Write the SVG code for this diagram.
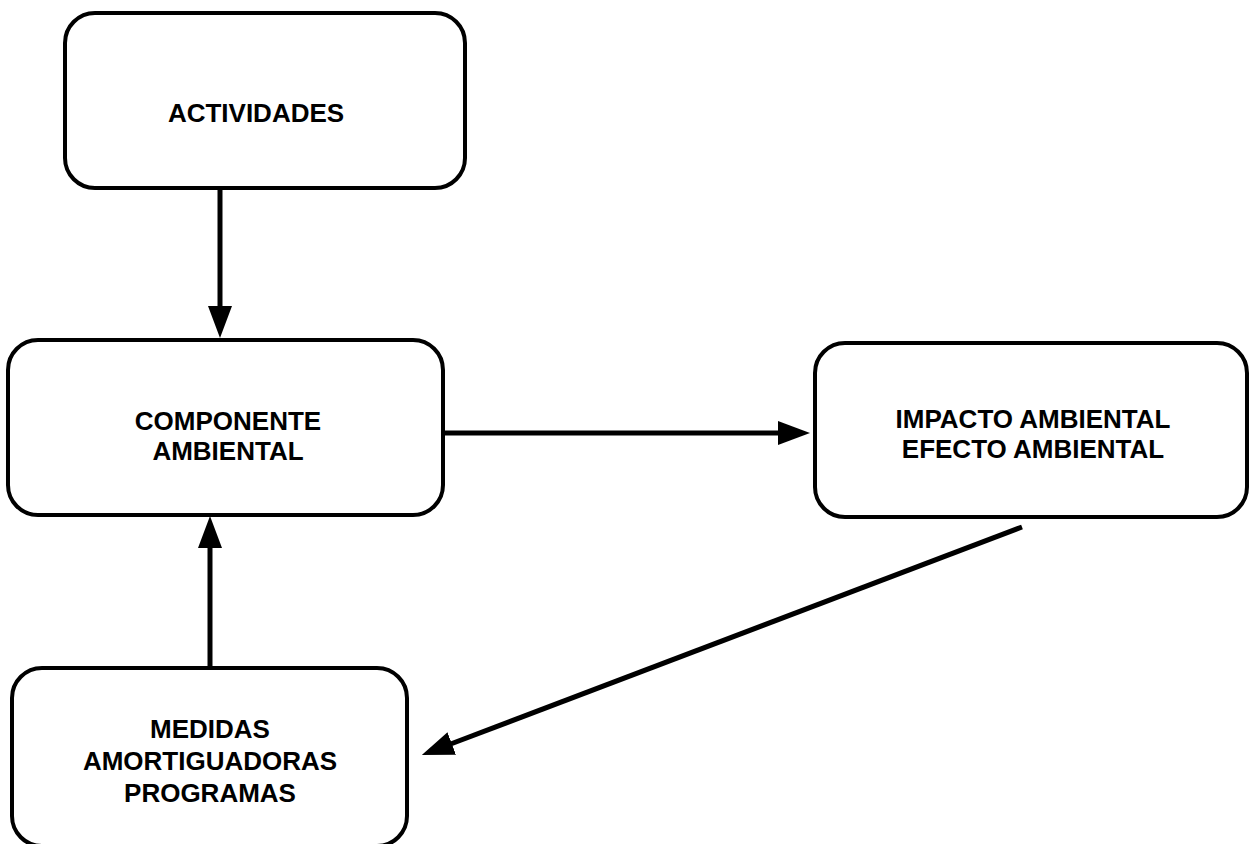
<svg xmlns="http://www.w3.org/2000/svg" width="1251" height="844" viewBox="0 0 1251 844">
<style>
.box{fill:#fff;stroke:#000;stroke-width:4}
.lbl{font-family:"Liberation Sans",Arial,sans-serif;font-weight:bold;font-size:26px;fill:#000;text-anchor:middle}
.conn{stroke:#000;stroke-width:5;fill:none}
</style>
<defs>
<marker id="ah" markerUnits="userSpaceOnUse" markerWidth="34" markerHeight="26" refX="4" refY="12" orient="auto">
<path d="M0,0 L32,12 L0,24 z" fill="#000"/>
</marker>
</defs>
<rect width="1251" height="844" fill="#fff"/>
<g id="n-actividades">
<rect class="box" x="65" y="13" width="400" height="175" rx="30"/>
<text class="lbl" x="256" y="122">ACTIVIDADES</text>
</g>
<g id="n-componente">
<rect class="box" x="8" y="340" width="435" height="175" rx="30"/>
<text class="lbl" x="228" y="430">COMPONENTE</text>
<text class="lbl" x="228" y="460">AMBIENTAL</text>
</g>
<g id="n-impacto">
<rect class="box" x="815" y="343" width="432" height="174" rx="30"/>
<text class="lbl" x="1033" y="428">IMPACTO AMBIENTAL</text>
<text class="lbl" x="1033" y="458">EFECTO AMBIENTAL</text>
</g>
<g id="n-medidas">
<rect class="box" x="12" y="668" width="395" height="178" rx="30"/>
<text class="lbl" x="210" y="738">MEDIDAS</text>
<text class="lbl" x="210" y="770">AMORTIGUADORAS</text>
<text class="lbl" x="210" y="802">PROGRAMAS</text>
</g>
<g id="connectors">
<line class="conn" x1="220" y1="188" x2="220" y2="310" marker-end="url(#ah)"/>
<line class="conn" x1="443" y1="433" x2="782" y2="433" marker-end="url(#ah)"/>
<line class="conn" x1="1022" y1="527" x2="448" y2="745" marker-end="url(#ah)"/>
<line class="conn" x1="210" y1="668" x2="210" y2="544" marker-end="url(#ah)"/>
</g>
</svg>
